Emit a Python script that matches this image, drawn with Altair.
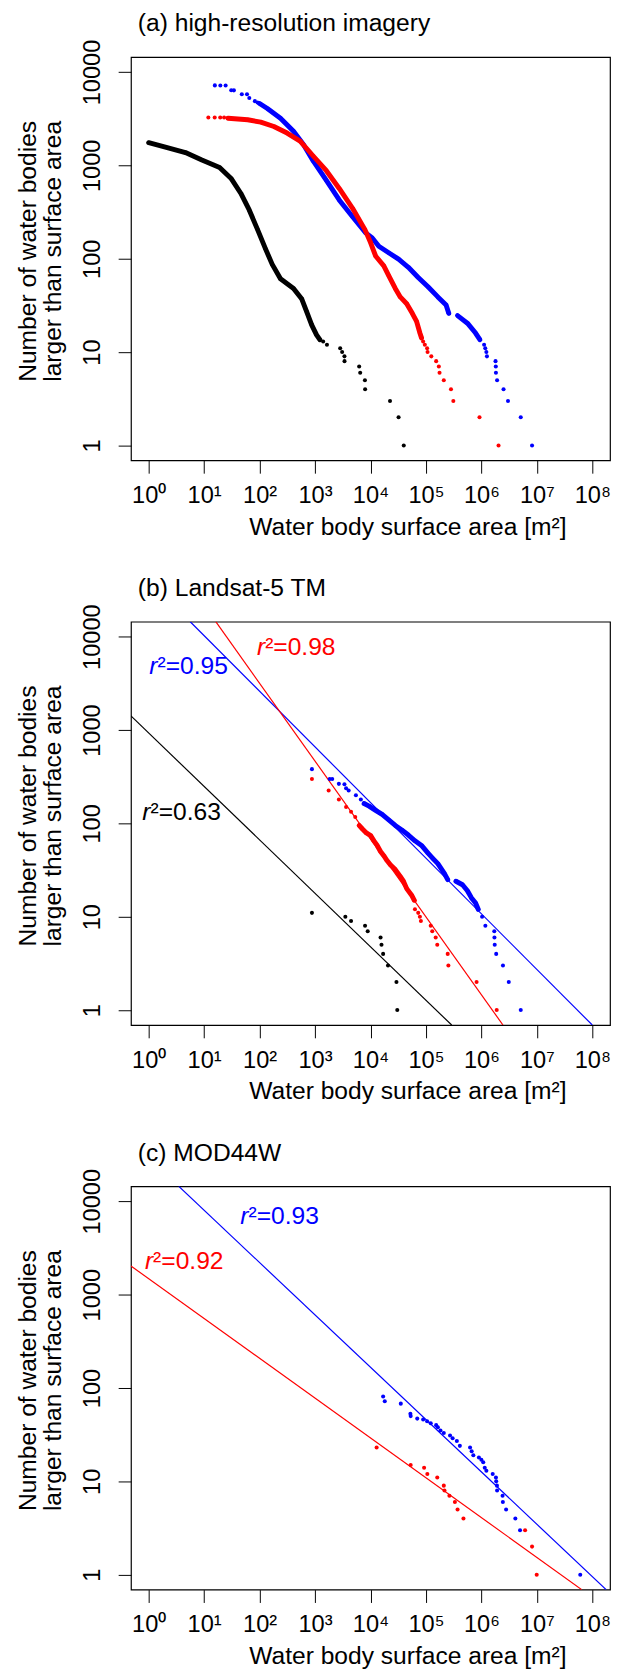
import altair as alt
import pandas as pd

FONT = "Liberation Sans"
BLUE, RED, BLACK = "#0000ff", "#ff0000", "#000000"

# axis ranges (log10 -0.32..8.32 and -0.16..4.16)
XDOM = [0.4786, 2.089e8]
YDOM = [0.6918, 14454]
X_TICKS = [1, 10, 100, 1000, 10000, 100000, 1000000, 10000000, 100000000]
Y_TICKS = [1, 10, 100, 1000, 10000]
SUPERS = ["⁰", "¹", "²", "³", "⁴", "⁵", "⁶", "⁷", "⁸"]
X_TITLE = "Water body surface area [m²]"
Y_TITLE = ["Number of water bodies", "larger than surface area"]
TITLES = ["(a) high-resolution imagery", "(b) Landsat-5 TM", "(c) MOD44W"]

# ---------------- panel (a) ----------------  (seg > 0: dense run of points)
a_blue_area = [15.6, 19.6, 24.4, 30.8, 34.4, 47.8, 59.3, 65.2, 82.2, 91.8,
               100, 138, 238, 409, 617, 927, 1600, 2750, 4750, 8220, 10760, 14130,
               21300, 32100, 48200, 72600, 109000, 164000, 231000, 258000,
               372000, 560000, 785000, 940000,
               1120000, 1175000, 1230000, 1260000, 1800000, 1820000, 1830000,
               1920000, 2510000, 3020000, 5130000, 8200000]
a_blue_n = [7190, 7180, 7170, 6370, 6360, 5780, 5770, 5280, 4875, 4710,
            4600, 4070, 3200, 2320, 1675, 1117, 689, 424, 282, 189, 167, 136,
            116, 99, 81, 63, 50, 39, 32, 26,
            24.6, 20.4, 16, 13.6,
            12, 11, 10, 9, 8, 7, 6, 5, 4, 3, 2, 1]
a_blue_seg = [0] * 10 + [1] * 20 + [2] * 4 + [0] * 12

a_red_area = [11.9, 15.5, 19.5, 22.9,
              26.9, 61, 105, 181, 313, 538, 927, 1600, 2750, 4750, 7940, 10070,
              12360, 17380, 21300, 28000, 34400, 45000, 56750, 67800, 77800, 83200,
              89000, 95500, 105000, 107000, 125000, 153000, 171000, 176000, 210000,
              283000, 312000, 925000, 2040000]
a_red_n = [3255, 3254, 3253, 3252,
           3200, 3080, 2900, 2610, 2220, 1820, 1260, 877, 562, 347, 205, 148,
           107, 84, 66, 48, 39, 33, 26, 21.3, 16, 14.2,
           13, 12, 11, 10, 9, 8, 7, 6, 5, 4, 3, 2, 1]
a_red_seg = [0] * 4 + [1] * 22 + [0] * 13

a_black_area = [1, 2.0, 4.6, 9.1, 19, 31, 46, 65, 92, 129, 169, 238, 409, 577, 708,
                869, 1064, 1219,
                1400, 1640, 2840, 3080, 3390, 3400, 6250, 6520, 7940, 8000, 22500,
                32100, 39800]
a_black_n = [1750, 1570, 1370, 1140, 950, 718, 500, 333, 205, 126, 87, 61, 48, 37, 27,
             19.6, 15.3, 13.6,
             13, 12, 11, 10, 9, 8, 7, 6, 5, 4, 3, 2, 1]
a_black_seg = [1] * 18 + [0] * 13

# ---------------- panel (b) ----------------
b_blue_area = [879, 1837, 2042, 2690, 3390, 3630, 4040, 5460, 6700, 7670, 9420, 12360,
               16200, 21300, 28000, 36700, 48200, 63400, 83200, 109000, 134000, 164000,
               216000, 247000, 348000, 456000, 560000, 659000, 785000, 877000, 1030000,
               1180000, 1710000, 1720000, 1740000, 1850000, 2450000, 3120000, 5130000]
b_blue_n = [381, 299, 298, 265, 262, 238, 225, 200, 180, 163, 153, 138, 125, 109, 95, 85,
            75, 65, 58, 48, 42, 37, 29, 25, 24, 22, 19, 16, 14, 12, 10, 8, 7, 6, 5, 4, 3,
            2, 1]
b_blue_seg = [0] * 9 + [1] * 15 + [2] * 6 + [0] * 9

b_red_area = [879, 1760, 2690, 3630, 4460, 5310, 6250, 7160, 8430, 10070, 11530, 13210,
              15170, 17380, 19860, 22800, 28000, 34400, 39300, 45000, 55200, 61700,
              63400, 72600, 77800, 81100, 122000, 130000, 150000, 160000, 247000,
              254000, 819000, 1890000]
b_red_n = [299, 225, 180, 150, 133, 117, 95, 87, 79, 74, 65, 58, 50, 45, 40, 36, 32, 27,
           24, 20, 17, 15, 12, 11, 10, 9, 8, 7, 6, 5, 4, 3, 2, 1]
b_red_seg = [0] * 6 + [1] * 16 + [0] * 12

b_black_area = [879, 3520, 4460, 7980, 8910, 15200, 15800, 16900, 20700, 29400, 30400]
b_black_n = [11, 10, 9, 8, 7, 6, 5, 4, 3, 2, 1]
b_black_seg = [0] * 11

# fitted power laws (end points on the frame)
b_fit_blue_area, b_fit_blue_n = [5.61, 1e8], [14454, 0.6918]
b_fit_red_area, b_fit_red_n = [16.2, 2450000], [14454, 0.6918]
b_fit_black_area, b_fit_black_n = [0.4786, 291000], [1416, 0.6918]

# ---------------- panel (c) ----------------
c_blue_area = [16900, 18100, 35200, 52400, 53100, 69700, 89100, 105000, 122000, 153000,
               164000, 183000, 210000, 272000, 303000, 361000, 409000, 625000, 668000,
               716000, 902000, 1000000, 1080000, 1150000, 1230000, 1600000, 1830000,
               1850000, 1910000, 1920000, 2410000, 2440000, 2790000, 4100000, 4980000,
               60700000]
c_blue_n = [81, 72, 68, 53, 50, 47, 46, 44, 42, 40, 38, 35, 33, 31, 29, 27, 24, 23, 21,
            19, 18, 17, 16, 14, 13, 12, 11, 10, 9, 8, 7, 6, 5, 4, 3, 1]
c_blue_seg = [0] * 36

c_red_area = [12900, 53100, 92700, 106000, 160000, 210000, 216000, 265000, 333000,
              372000, 475000, 6140000, 8200000, 9950000]
c_red_n = [23, 15, 14, 12, 11, 9, 8, 7, 6, 5, 4, 3, 2, 1]
c_red_seg = [0] * 14

c_fit_blue_area, c_fit_blue_n = [3.49, 1.78e8], [14454, 0.6918]
c_fit_red_area, c_fit_red_n = [0.4786, 6.46e7], [2028, 0.6918]

# r^2 annotations: (area, count) anchor, value text, colour
b_labels = [(1.44, 3955, "0.95", BLUE), (126, 6430, "0.98", RED), (1.08, 110, "0.63", BLACK)]
c_labels = [(63, 5720, "0.93", BLUE), (1.2, 1870, "0.92", RED)]


sup_expr = "'10' + [" + ",".join("'" + s + "'" for s in SUPERS) + "][round(log(datum.value)/LN10)]"


def x_enc():
    return alt.X(
        "area:Q",
        title=X_TITLE,
        scale=alt.Scale(type="log", domain=XDOM, nice=False),
        axis=alt.Axis(
            values=X_TICKS, labelExpr=sup_expr, domain=False, grid=False,
            tickSize=13, tickColor="black", tickWidth=1,
            labelFont=FONT, labelFontSize=24, labelColor="black",
            labelBaseline="alphabetic", labelPadding=30, labelFlush=False,
            labelOverlap=False,
            titleFont=FONT, titleFontSize=25, titleFontWeight="normal",
            titleColor="black", titleX=281, titleY=75, titleAlign="center",
            titleBaseline="alphabetic",
        ),
    )


def y_enc():
    return alt.Y(
        "n:Q",
        title=Y_TITLE,
        scale=alt.Scale(type="log", domain=YDOM, nice=False),
        axis=alt.Axis(
            values=Y_TICKS, format="d", domain=False, grid=False,
            tickSize=13, tickColor="black", tickWidth=1,
            labelFont=FONT, labelFontSize=24, labelColor="black",
            labelAngle=270, labelAlign="center", labelBaseline="alphabetic",
            labelPadding=19, labelFlush=False, labelOverlap=False,
            titleFont=FONT, titleFontSize=25, titleFontWeight="normal",
            titleColor="black", titleAngle=270, titleX=-97.5, titleY=197,
            titleAlign="center", titleBaseline="alphabetic", titleLineHeight=26,
        ),
    )


def series(area, n, seg, color):
    df = pd.DataFrame({"area": area, "n": n, "seg": seg})
    base = alt.Chart(df).encode(x=x_enc(), y=y_enc())
    line = base.transform_filter("datum.seg > 0").mark_line(
        color=color, strokeWidth=5, strokeCap="round", strokeJoin="round"
    ).encode(detail="seg:N")
    pts = base.mark_circle(color=color, size=17, opacity=1)
    return [line, pts]


def fit(area, n, color):
    df = pd.DataFrame({"area": area, "n": n})
    return alt.Chart(df).mark_line(color=color, strokeWidth=1.2, clip=True).encode(
        x=x_enc(), y=y_enc()
    )


def labels(items):
    out = []
    for a, n, val, col in items:
        df = pd.DataFrame({"area": [a], "n": [n]})
        base = alt.Chart(df).encode(x=x_enc(), y=y_enc())
        out.append(base.mark_text(text="r", font=FONT, fontSize=25, fontStyle="italic",
                                  align="right", baseline="alphabetic", color=col))
        out.append(base.mark_text(text="²=" + val, font=FONT, fontSize=25,
                                  align="left", baseline="alphabetic", color=col))
    return out


def titled(layers, text):
    return alt.layer(*layers).properties(
        width=487, height=410,
        title=alt.TitleParams(text=text, anchor="start", frame="group", dx=7,
                              font=FONT, fontSize=25, fontWeight="normal",
                              color="black", baseline="alphabetic", offset=-17),
    )


pa = titled(
    series(a_blue_area, a_blue_n, a_blue_seg, BLUE)
    + series(a_red_area, a_red_n, a_red_seg, RED)
    + series(a_black_area, a_black_n, a_black_seg, BLACK),
    TITLES[0],
)

pb = titled(
    [fit(b_fit_blue_area, b_fit_blue_n, BLUE), fit(b_fit_red_area, b_fit_red_n, RED),
     fit(b_fit_black_area, b_fit_black_n, BLACK)]
    + series(b_blue_area, b_blue_n, b_blue_seg, BLUE)
    + series(b_red_area, b_red_n, b_red_seg, RED)
    + series(b_black_area, b_black_n, b_black_seg, BLACK)
    + labels(b_labels),
    TITLES[1],
)

pc = titled(
    [fit(c_fit_blue_area, c_fit_blue_n, BLUE), fit(c_fit_red_area, c_fit_red_n, RED)]
    + series(c_blue_area, c_blue_n, c_blue_seg, BLUE)
    + series(c_red_area, c_red_n, c_red_seg, RED)
    + labels(c_labels),
    TITLES[2],
)

chart = alt.vconcat(pa, pb, pc, spacing=36).properties(
    padding={"left": 6, "top": -11, "right": 0, "bottom": 0},
    background="white",
).configure_view(stroke="black", strokeWidth=1.2)

chart.save("out.html", embed_options={"renderer": "svg", "actions": False})
